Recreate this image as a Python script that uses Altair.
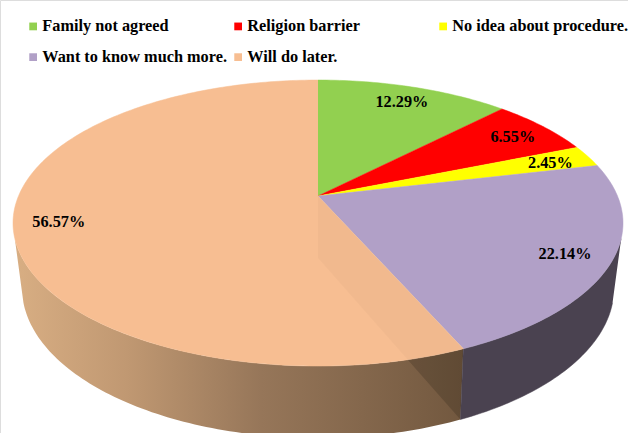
import math
import altair as alt
import pandas as pd

categories = ["Family not agreed", "Religion barrier", "No idea about procedure.",
              "Want to know much more.", "Will do later."]
shares = [12.29, 6.55, 2.45, 22.14, 56.57]
colors = ["#92D050", "#FF0000", "#FFFF00", "#B1A0C7", "#F7BE92"]

CX = 318
TOP_PLANE = dict(cy=196, bx=299.5, ay=137.9, k=0.189)
BOTTOM_PLANE = dict(cy=258, bx=290.0, ay=144.0, k=0.20)
LEFT_SILHOUETTE = 253.0
RIGHT_SILHOUETTE = 107.0
LABEL_RADIUS = 0.855


def project(angle_deg, radius, plane):
    """Perspective projection of a polar point on a horizontal disc."""
    a = math.radians(angle_deg)
    px, py = radius * math.sin(a), radius * math.cos(a)
    d = 1 + plane["k"] * py
    return CX + plane["bx"] * px / d, plane["cy"] - plane["ay"] * py / d


def sweep(a0, a1):
    n = max(2, int(abs(a1 - a0)) + 1)
    return [a0 + (a1 - a0) * i / n for i in range(n + 1)]


def polygon(name, points):
    return [{"shape": name, "i": i, "px": p[0], "py": p[1]} for i, p in enumerate(points)]


def wall_points(a0, a1):
    upper = [project(a, 1, TOP_PLANE) for a in sweep(a0, a1)]
    lower = [project(a, 1, BOTTOM_PLANE) for a in sweep(a1, a0)]
    return upper + lower


# Cumulative slice boundaries, clockwise from twelve o'clock
edges = [0.0]
for s in shares:
    edges.append(edges[-1] + s * 3.6)
edges[-1] = 360.0

x_enc = alt.X("px:Q", scale=alt.Scale(domain=[0, 628], nice=False, zero=False), axis=None)
y_enc = alt.Y("py:Q", scale=alt.Scale(domain=[433, 0], nice=False, zero=False), axis=None)


def face(points, name, **mark):
    return alt.Chart(pd.DataFrame(polygon(name, points))).mark_line(clip=True, **mark).encode(
        x=x_enc, y=y_enc, order="i:Q"
    )


side_gradient = alt.Gradient(
    gradient="linear", x1=0, x2=1, y1=0, y2=0,
    stops=[
        alt.GradientStop(color="#D8AE83", offset=0),
        alt.GradientStop(color="#C09872", offset=0.25),
        alt.GradientStop(color="#967659", offset=0.55),
        alt.GradientStop(color="#72583F", offset=1),
    ],
)

layers = [
    face(wall_points(edges[4], LEFT_SILHOUETTE), "peach side", fill=side_gradient, strokeWidth=0),
    face(wall_points(RIGHT_SILHOUETTE, edges[4]), "purple side", fill="#4A4250", stroke="#4A4250", strokeWidth=0.5),
]

# Cut face of the largest slice, seen through the side wall
cut_face = [project(0, 0, TOP_PLANE), project(edges[4], 1, TOP_PLANE),
            project(edges[4], 1, BOTTOM_PLANE), project(0, 0, BOTTOM_PLANE)]
layers.append(face(cut_face, "cut dark", fill="#000000", fillOpacity=0.13, strokeWidth=0))

# Top faces of the slices
for i, name in enumerate(categories):
    pts = [project(0, 0, TOP_PLANE)] + [project(a, 1, TOP_PLANE) for a in sweep(edges[i], edges[i + 1])]
    layers.append(face(pts, name, fill=colors[i], stroke=colors[i], strokeWidth=0.5))

layers.append(face(cut_face, "cut light", fill="#000000", fillOpacity=0.025, strokeWidth=0))

# Percentage labels placed along each slice's middle angle
label_rows = []
for i, s in enumerate(shares):
    lx, ly = project((edges[i] + edges[i + 1]) / 2, LABEL_RADIUS, TOP_PLANE)
    label_rows.append({"px": lx, "py": ly, "label": f"{s:.2f}%"})
layers.append(
    alt.Chart(pd.DataFrame(label_rows))
    .mark_text(font="Liberation Serif", fontWeight="bold", fontSize=16.3, color="#000000", dy=1)
    .encode(x=x_enc, y=y_enc, text="label:N")
)

# Zero-sized points that only carry the colour legend
legend_rows = pd.DataFrame({"category": categories, "px": [0.0] * 5, "py": [0.0] * 5})
layers.append(
    alt.Chart(legend_rows)
    .mark_point(filled=True, size=0, shape="square", opacity=1)
    .encode(
        x=x_enc,
        y=y_enc,
        color=alt.Color(
            "category:N",
            scale=alt.Scale(domain=categories, range=colors),
            legend=alt.Legend(
                title=None, orient="none", legendX=25, legendY=18, columns=3,
                direction="horizontal", gridAlign="all", columnPadding=3, rowPadding=14,
                symbolType="square", symbolSize=60, symbolOpacity=1, symbolStrokeWidth=0,
                labelFont="Liberation Serif", labelFontWeight="bold", labelFontSize=16.3,
                labelColor="#000000", labelLimit=300, labelOffset=1,
            ),
        ),
    )
)

chart = (
    alt.layer(*layers)
    .properties(width=628, height=433, padding=0, autosize=alt.AutoSizeParams(type="none"))
    .configure_view(stroke=None)
    .configure(background="#FFFFFF")
)

chart.save("out.html", embed_options={"renderer": "svg", "actions": False})
